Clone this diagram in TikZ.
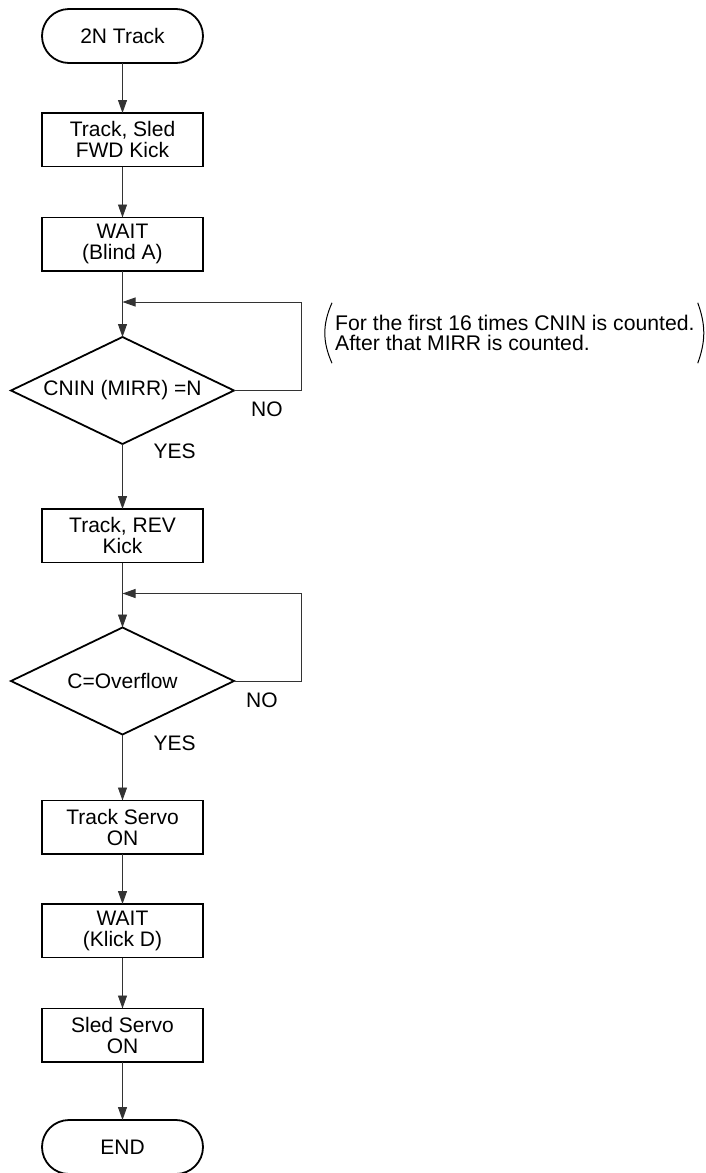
\documentclass[tikz,border=0pt]{standalone}
\usepackage{fontspec}
\setmainfont{Liberation Sans}
\usepackage{tikz}
\usetikzlibrary{shapes,shapes.geometric,arrows.meta,positioning,calc}

\begin{document}
\begin{tikzpicture}[
    every node/.style={font=\fontsize{21}{21}\selectfont},
    term/.style={draw, line width=1.8pt, rectangle, rounded corners=27pt, minimum width=161pt, minimum height=54pt, inner sep=0pt, outer sep=0pt},
    proc/.style={draw, line width=1.8pt, rectangle, minimum width=161pt, minimum height=53.5pt, inner sep=0pt, outer sep=0pt, align=center},
    decision/.style={draw, line width=1.8pt, diamond, aspect=2.08, minimum width=223pt, minimum height=107pt, inner sep=0pt, outer sep=0pt},
    flow/.style={line width=0.9pt, draw=black!80, -{Triangle[length=13pt,width=9pt]}},
    lbl/.style={inner sep=0pt},
    note/.style={inner xsep=3pt, inner ysep=0pt, minimum height=60pt, align=left, font=\fontsize{21.2}{20}\selectfont}
]
    \useasboundingbox (0,0) rectangle (706pt,-1173pt);

    % main column
    \node[term] (start) at (122.5pt,-36pt) {2N Track};
    \node[proc, below=50pt of start] (fwdkick) {Track, Sled\\FWD Kick};
    \node[proc, below=51pt of fwdkick] (waitA) {WAIT\\(Blind A)};
    \node[decision, below=66pt of waitA] (cnin) {CNIN (MIRR) =N};
    \node[proc, below=65pt of cnin] (revkick) {Track, REV\\Kick};
    \node[decision, below=65pt of revkick] (ovf) {C=Overflow};
    \node[proc, below=66pt of ovf] (trkservo) {Track Servo\\ON};
    \node[proc, below=50pt of trkservo] (waitD) {WAIT\\(Klick D)};
    \node[proc, below=51pt of waitD] (sledservo) {Sled Servo\\ON};
    \node[term, below=58pt of sledservo] (finish) {END};

    % loop joints
    \coordinate[below=31pt of waitA.south] (joinA);
    \coordinate[below=31pt of revkick.south] (joinB);

    % branch labels
    \node[lbl, anchor=north west, below right=11.5pt and 17pt of cnin.east] (noA) {NO};
    \node[lbl, anchor=north west, below right=0pt and 31pt of cnin.south] (yesA) {YES};
    \node[lbl, anchor=north west, below right=11.5pt and 12pt of ovf.east] (noB) {NO};
    \node[lbl, anchor=north west, below right=1pt and 31pt of ovf.south] (yesB) {YES};

    % remark
    \node[note, anchor=west] (remark) at (332pt,-333pt) {For the first 16 times CNIN is counted.\\After that MIRR is counted.};
    \draw[line width=1pt] (remark.north west) to[bend right=24] (remark.south west);
    \draw[line width=1pt] (remark.north east) to[bend left=20] (remark.south east);

    % connectors
    \draw[flow] (start) -- (fwdkick);
    \draw[flow] (fwdkick) -- (waitA);
    \draw[flow] (waitA) -- (cnin);
    \draw[flow] (cnin.east) -- ++(67pt,0) |- (joinA);
    \draw[flow] (cnin) -- (revkick);
    \draw[flow] (revkick) -- (ovf);
    \draw[flow] (ovf.east) -- ++(67pt,0) |- (joinB);
    \draw[flow] (ovf) -- (trkservo);
    \draw[flow] (trkservo) -- (waitD);
    \draw[flow] (waitD) -- (sledservo);
    \draw[flow] (sledservo) -- (finish);
\end{tikzpicture}
\end{document}
